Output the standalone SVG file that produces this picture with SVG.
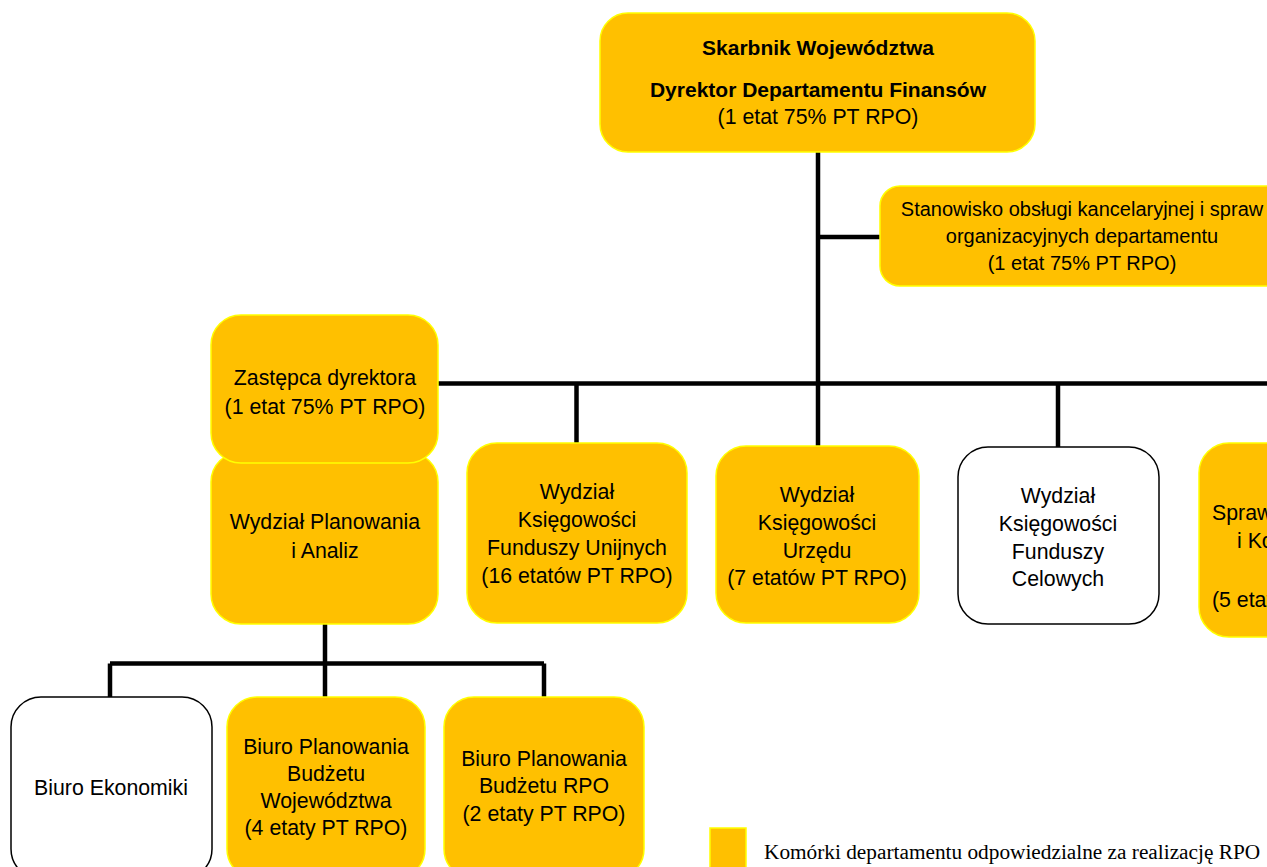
<svg xmlns="http://www.w3.org/2000/svg" width="1267" height="867" viewBox="0 0 1267 867">
  <style>
    .rpo { fill: #FFC000; stroke: #FFFF00; stroke-width: 1.5; }
    .other { fill: #FFFFFF; stroke: #000000; stroke-width: 1.5; }
    .wire { fill: none; stroke: #000000; stroke-width: 4.5; stroke-linecap: butt; }
    text { font-family: "Liberation Sans", Arial, sans-serif; font-size: 21.3px; fill: #000000; text-anchor: middle; }
    .b { font-weight: bold; font-size: 21px; }
    .sm { font-size: 20px; }
    .legend { font-family: "Liberation Serif", "Times New Roman", serif; font-size: 21.3px; text-anchor: start; }
  </style>
  <rect width="1267" height="867" fill="#FFFFFF"/>

  <!-- connectors -->
  <g id="connectors">
    <path class="wire" d="M818 152 V446"/>
    <path class="wire" d="M818 237 H880"/>
    <path class="wire" d="M437 383.5 H1267"/>
    <path class="wire" d="M576.5 383.5 V444"/>
    <path class="wire" d="M1058 383.5 V447"/>
    <path class="wire" d="M325 623 V698"/>
    <path class="wire" d="M110 663.5 H544"/>
    <path class="wire" d="M110 663.5 V698"/>
    <path class="wire" d="M544 663.5 V698"/>
  </g>

  <!-- director -->
  <g id="skarbnik">
    <rect class="rpo" x="600" y="13" width="435" height="139" rx="28"/>
    <text class="b" x="818" y="55">Skarbnik Województwa</text>
    <text class="b" x="818" y="97">Dyrektor Departamentu Finansów</text>
    <text x="818" y="124">(1 etat 75% PT RPO)</text>
  </g>

  <!-- office staff post -->
  <g id="stanowisko">
    <rect class="rpo" x="880" y="186" width="405" height="100" rx="20"/>
    <text class="sm" x="1082" y="216">Stanowisko obsługi kancelaryjnej i spraw</text>
    <text class="sm" x="1082" y="243">organizacyjnych departamentu</text>
    <text class="sm" x="1082" y="270">(1 etat 75% PT RPO)</text>
  </g>

  <!-- planning department (drawn below the deputy box) -->
  <g id="wydzial-planowania">
    <rect class="rpo" x="211" y="452" width="227" height="172" rx="30"/>
    <text x="325" y="529">Wydział Planowania</text>
    <text x="325" y="558">i Analiz</text>
  </g>

  <g id="zastepca">
    <rect class="rpo" x="211" y="315" width="227" height="148" rx="30"/>
    <text x="325" y="385">Zastępca dyrektora</text>
    <text x="325" y="414">(1 etat 75% PT RPO)</text>
  </g>

  <g id="ksiegowosc-unijna">
    <rect class="rpo" x="467" y="443" width="220" height="180" rx="30"/>
    <text x="577" y="499">Wydział</text>
    <text x="577" y="527">Księgowości</text>
    <text x="577" y="555">Funduszy Unijnych</text>
    <text x="577" y="583">(16 etatów PT RPO)</text>
  </g>

  <g id="ksiegowosc-urzedu">
    <rect class="rpo" x="716" y="446" width="203" height="177" rx="30"/>
    <text x="817" y="502">Wydział</text>
    <text x="817" y="530">Księgowości</text>
    <text x="817" y="558">Urzędu</text>
    <text x="817" y="585">(7 etatów PT RPO)</text>
  </g>

  <g id="ksiegowosc-celowa">
    <rect class="other" x="958" y="447" width="201" height="177" rx="30"/>
    <text x="1058" y="503">Wydział</text>
    <text x="1058" y="531">Księgowości</text>
    <text x="1058" y="559">Funduszy</text>
    <text x="1058" y="586">Celowych</text>
  </g>

  <g id="sprawozdawczosc">
    <rect class="rpo" x="1199" y="443" width="200" height="194" rx="30"/>
    <text x="1212" y="520" style="text-anchor:start">Sprawozdawczości</text>
    <text x="1237" y="548" style="text-anchor:start">i Kontroli</text>
    <text x="1212" y="607" style="text-anchor:start">(5 etatów PT RPO)</text>
  </g>

  <g id="biuro-ekonomiki">
    <rect class="other" x="11" y="697" width="201" height="182" rx="30"/>
    <text x="111" y="795">Biuro Ekonomiki</text>
  </g>

  <g id="biuro-budzetu-wojewodztwa">
    <rect class="rpo" x="227" y="697" width="198" height="182" rx="30"/>
    <text x="326" y="754">Biuro Planowania</text>
    <text x="326" y="781">Budżetu</text>
    <text x="326" y="808">Województwa</text>
    <text x="326" y="835">(4 etaty PT RPO)</text>
  </g>

  <g id="biuro-budzetu-rpo">
    <rect class="rpo" x="444" y="697" width="200" height="182" rx="30"/>
    <text x="544" y="766">Biuro Planowania</text>
    <text x="544" y="793">Budżetu RPO</text>
    <text x="544" y="821">(2 etaty PT RPO)</text>
  </g>

  <!-- legend -->
  <g id="legenda">
    <rect class="rpo" x="710" y="828" width="36" height="45"/>
    <text class="legend" x="764" y="859">Komórki departamentu odpowiedzialne za realizację RPO</text>
  </g>
</svg>
